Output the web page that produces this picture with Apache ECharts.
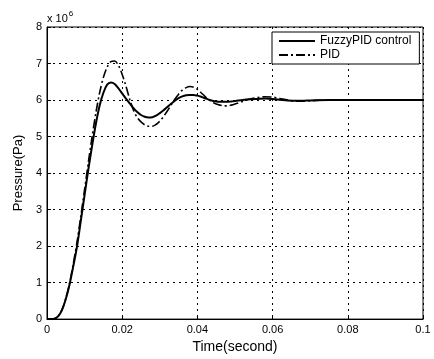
<!DOCTYPE html>
<html>
<head>
<meta charset="utf-8">
<script src="https://cdn.jsdelivr.net/npm/echarts@6/dist/echarts.min.js"></script>
<style>
  html, body { margin: 0; padding: 0; background: #fff; }
  #main { width: 434px; height: 359px; }
</style>
</head>
<body>
<div id="main"></div>
<script>
// time in seconds, pressure in units of 1e6 Pa
const time = [
  0, 0.001, 0.002, 0.003, 0.004, 0.005, 0.006, 0.007, 0.008, 0.009,
  0.010, 0.011, 0.012, 0.013, 0.014, 0.015, 0.016, 0.017, 0.018, 0.019,
  0.020, 0.021, 0.022, 0.023, 0.024, 0.025, 0.026, 0.027, 0.028, 0.029,
  0.030, 0.031, 0.032, 0.033, 0.034, 0.035, 0.036, 0.037, 0.038, 0.039,
  0.040, 0.041, 0.042, 0.043, 0.044, 0.045, 0.046, 0.047, 0.048, 0.049,
  0.050, 0.052, 0.054, 0.056, 0.058, 0.060, 0.062, 0.064, 0.066, 0.068,
  0.070, 0.075, 0.080, 0.090, 0.100
];
const fuzzyPid = [
  0, 0, 0.01, 0.08, 0.25, 0.55, 0.95, 1.45, 2.0, 2.7,
  3.4, 4.1, 4.75, 5.35, 5.85, 6.2, 6.42, 6.48, 6.44, 6.32,
  6.18, 6.04, 5.91, 5.78, 5.67, 5.59, 5.54, 5.52, 5.53, 5.57,
  5.64, 5.72, 5.81, 5.9, 5.98, 6.05, 6.1, 6.13, 6.14, 6.14,
  6.12, 6.09, 6.05, 6.01, 5.98, 5.96, 5.95, 5.95, 5.95, 5.96,
  5.97, 6.0, 6.02, 6.03, 6.04, 6.03, 6.01, 5.99, 5.98, 5.98,
  5.99, 6.0, 6.0, 6.0, 6.0
];
const pid = [
  0, 0, 0.01, 0.08, 0.26, 0.57, 0.98, 1.52, 2.12, 2.82,
  3.55, 4.3, 5.0, 5.65, 6.2, 6.62, 6.9, 7.05, 7.07, 6.95,
  6.7, 6.38, 6.02, 5.72, 5.52, 5.4, 5.32, 5.28, 5.28, 5.33,
  5.42, 5.55, 5.7, 5.86, 6.02, 6.16, 6.27, 6.34, 6.37, 6.35,
  6.29, 6.2, 6.1, 6.01, 5.94, 5.89, 5.86, 5.84, 5.84, 5.86,
  5.89, 5.96, 6.03, 6.07, 6.09, 6.08, 6.04, 6.0, 5.97, 5.97,
  5.98, 6.0, 6.0, 6.0, 6.0
];
const seriesNames = ['FuzzyPID control', 'PID'];

const chart = echarts.init(document.getElementById('main'));
const font = 'Liberation Sans, Arial, sans-serif';
const gridLine = { show: true, lineStyle: { color: '#000', type: [2, 4], width: 1 } };

const option = {
  animation: false,
  backgroundColor: '#fff',
  textStyle: { fontFamily: font },
  grid: { left: 47, top: 27, right: 11, bottom: 35, show: true, borderColor: '#000', borderWidth: 1 },
  legend: {
    data: seriesNames,
    orient: 'vertical',
    left: 272,
    top: 32,
    itemWidth: 36,
    itemHeight: 11,
    itemGap: 2,
    padding: [3, 8, 3, 6],
    backgroundColor: '#fff',
    borderColor: '#000',
    borderWidth: 1,
    borderRadius: 0,
    itemStyle: { opacity: 0 },
    textStyle: { color: '#000', fontSize: 12, fontFamily: font }
  },
  graphic: [{
    type: 'text',
    left: 47,
    top: 10,
    style: {
      text: '{a|x 10}{b|6}',
      rich: {
        a: { fontSize: 11, fontFamily: font, fill: '#000', verticalAlign: 'bottom' },
        b: { fontSize: 8, fontFamily: font, fill: '#000', verticalAlign: 'top', padding: [0, 0, 6, 1] }
      }
    }
  }],
  xAxis: {
    type: 'value',
    min: 0,
    max: 0.1,
    interval: 0.02,
    name: 'Time(second)',
    nameLocation: 'middle',
    nameGap: 20,
    nameTextStyle: { color: '#000', fontSize: 14, fontFamily: font },
    axisLine: { show: true, lineStyle: { color: '#000' } },
    axisTick: { show: true, inside: true, length: 4, lineStyle: { color: '#000' } },
    axisLabel: { color: '#000', fontSize: 11, margin: 5, fontFamily: font },
    splitLine: gridLine
  },
  yAxis: {
    type: 'value',
    min: 0,
    max: 8,
    interval: 1,
    name: 'Pressure(Pa)',
    nameLocation: 'middle',
    nameGap: 16,
    nameTextStyle: { color: '#000', fontSize: 13, fontFamily: font },
    axisLine: { show: true, lineStyle: { color: '#000' } },
    axisTick: { show: true, inside: true, length: 4, lineStyle: { color: '#000' } },
    axisLabel: { color: '#000', fontSize: 11, margin: 5, fontFamily: font },
    splitLine: gridLine
  },
  series: [
    {
      name: seriesNames[0],
      type: 'line',
      symbol: 'none',
      smooth: 0.3,
      data: time.map((t, i) => [t, fuzzyPid[i]]),
      lineStyle: { color: '#000', width: 2, type: 'solid' },
      itemStyle: { color: '#000' },
      z: 3
    },
    {
      name: seriesNames[1],
      type: 'line',
      symbol: 'none',
      smooth: 0.3,
      data: time.map((t, i) => [t, pid[i]]),
      lineStyle: { color: '#000', width: 1.6, type: [9, 3, 2, 3] },
      itemStyle: { color: '#000' },
      z: 2
    }
  ]
};

chart.setOption(option);
</script>
</body>
</html>
